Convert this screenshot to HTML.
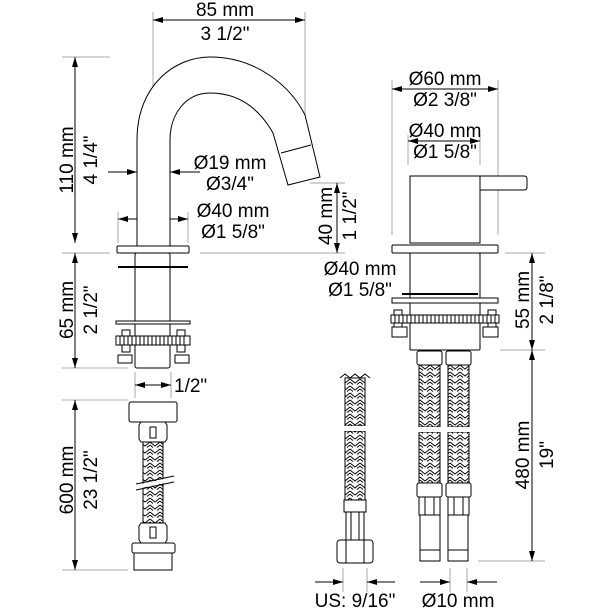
<!DOCTYPE html>
<html><head><meta charset="utf-8"><style>
html,body{margin:0;padding:0;background:#fff}
svg{display:block}
text{font-family:"Liberation Sans",sans-serif;font-size:19px;fill:#000}
</style></head><body>
<svg width="610" height="610" viewBox="0 0 610 610" xmlns="http://www.w3.org/2000/svg">
<defs>
<pattern id="braid" width="10" height="7" patternUnits="userSpaceOnUse">
<rect width="10" height="7" fill="#fff"/>
<path d="M0,1 L5,5 L10,1 M0,4 L3,6.5 M10,4 L7,6.5 M0,-2 L2,0 M10,-2 L8,0" stroke="#000" stroke-width="0.9" fill="none"/>
</pattern>
<marker id="a" markerWidth="10" markerHeight="6" refX="10" refY="3" orient="auto" markerUnits="userSpaceOnUse">
<path d="M0,0 L10,3 L0,6 z" fill="#000"/></marker>
</defs>

<g stroke="#aaa" stroke-width="1" fill="none">
<line x1="62" y1="57" x2="110" y2="57"/>
<line x1="62" y1="253" x2="110" y2="253"/>
<line x1="200" y1="253" x2="345" y2="253"/>
<line x1="62" y1="368" x2="128" y2="368"/>
<line x1="62" y1="400" x2="128" y2="400"/>
<line x1="62" y1="570" x2="128" y2="570"/>
<line x1="153" y1="12" x2="153" y2="160"/>
<line x1="305" y1="12" x2="305" y2="170"/>
<line x1="118" y1="212" x2="118" y2="243"/>
<line x1="188" y1="212" x2="188" y2="243"/>
<line x1="310" y1="183" x2="345" y2="183"/>
<line x1="392" y1="80" x2="392" y2="235"/>
<line x1="498" y1="80" x2="498" y2="235"/>
<line x1="408" y1="135" x2="408" y2="165"/>
<line x1="480" y1="135" x2="480" y2="165"/>
<line x1="505" y1="253" x2="545" y2="253"/>
<line x1="500" y1="350" x2="545" y2="350"/>
<line x1="478" y1="561" x2="545" y2="561"/>
<line x1="135" y1="372" x2="135" y2="398"/>
<line x1="171" y1="372" x2="171" y2="398"/>
<line x1="343" y1="568" x2="343" y2="592"/>
<line x1="367" y1="568" x2="367" y2="592"/>
<line x1="450" y1="568" x2="450" y2="592"/>
<line x1="467" y1="568" x2="467" y2="592"/>
</g>

<g stroke="#000" stroke-width="1" fill="none">
<line x1="225" y1="20" x2="153" y2="20" marker-end="url(#a)"/>
<line x1="225" y1="20" x2="305" y2="20" marker-end="url(#a)"/>
<line x1="75" y1="150" x2="75" y2="57" marker-end="url(#a)"/>
<line x1="75" y1="150" x2="75" y2="243" marker-end="url(#a)"/>
<line x1="75" y1="310" x2="75" y2="253" marker-end="url(#a)"/>
<line x1="75" y1="310" x2="75" y2="368" marker-end="url(#a)"/>
<line x1="75" y1="485" x2="75" y2="400" marker-end="url(#a)"/>
<line x1="75" y1="485" x2="75" y2="570" marker-end="url(#a)"/>
<line x1="108" y1="172" x2="137" y2="172" marker-end="url(#a)"/>
<line x1="200" y1="172" x2="170" y2="172" marker-end="url(#a)"/>
<line x1="153" y1="219" x2="118" y2="219" marker-end="url(#a)"/>
<line x1="153" y1="219" x2="188" y2="219" marker-end="url(#a)"/>
<line x1="337" y1="216" x2="337" y2="183" marker-end="url(#a)"/>
<line x1="337" y1="216" x2="337" y2="253" marker-end="url(#a)"/>
<line x1="445" y1="89" x2="392" y2="89" marker-end="url(#a)"/>
<line x1="445" y1="89" x2="498" y2="89" marker-end="url(#a)"/>
<line x1="444" y1="141" x2="408" y2="141" marker-end="url(#a)"/>
<line x1="444" y1="141" x2="480" y2="141" marker-end="url(#a)"/>
<line x1="445" y1="278" x2="410" y2="278" marker-end="url(#a)"/>
<line x1="445" y1="278" x2="480" y2="278" marker-end="url(#a)"/>
<line x1="532" y1="300" x2="532" y2="253" marker-end="url(#a)"/>
<line x1="532" y1="300" x2="532" y2="350" marker-end="url(#a)"/>
<line x1="532" y1="455" x2="532" y2="350" marker-end="url(#a)"/>
<line x1="532" y1="455" x2="532" y2="561" marker-end="url(#a)"/>
<line x1="153" y1="385" x2="135" y2="385" marker-end="url(#a)"/>
<line x1="153" y1="385" x2="171" y2="385" marker-end="url(#a)"/>
<line x1="315" y1="582" x2="343" y2="582" marker-end="url(#a)"/>
<line x1="395" y1="582" x2="367" y2="582" marker-end="url(#a)"/>
<line x1="420" y1="582" x2="450" y2="582" marker-end="url(#a)"/>
<line x1="497" y1="582" x2="467" y2="582" marker-end="url(#a)"/>
</g>

<g stroke="#000" stroke-width="1" fill="#fff">
<path d="M137,246 V140 C137,85 175,57 210,57 C255,57 290,85 305,115 L320,177 L288,185 L273,133 C260,110 240,93 210,93 C185,93 170,115 170,140 V246"/>
<line x1="281" y1="153" x2="311" y2="145"/>
<rect x="117" y="246" width="72" height="7" rx="1"/>
<rect x="135" y="253" width="35" height="115" rx="2"/>
<line x1="118" y1="267" x2="188" y2="267" stroke-width="2"/>
<rect x="116" y="321" width="74" height="3"/>
<rect x="122" y="330" width="8" height="22"/>
<rect x="177" y="330" width="8" height="22"/>
<rect x="118" y="355" width="14" height="8"/>
<rect x="175" y="355" width="14" height="8"/>
<rect x="116" y="336" width="74" height="9"/>
<path d="M120,336v9M124,336v9M128,336v9M132,336v9M136,336v9M140,336v9M144,336v9M148,336v9M152,336v9M156,336v9M160,336v9M164,336v9M168,336v9M172,336v9M176,336v9M180,336v9M184,336v9" fill="none"/>
</g>

<g stroke="#000" stroke-width="1" fill="#fff">
<path d="M480,176 H524 Q527,176 527,179 V187 Q527,190 524,190 H480 Z"/>
<rect x="410" y="176" width="70" height="67"/>
<rect x="392" y="245" width="106" height="8" rx="1"/>
<rect x="410" y="253" width="70" height="97" rx="1"/>
<line x1="402" y1="294" x2="478" y2="294" stroke-width="2"/>
<rect x="392" y="298" width="106" height="5"/>
<rect x="394" y="310" width="8" height="20"/>
<rect x="488" y="310" width="8" height="20"/>
<rect x="392" y="327" width="15" height="10"/>
<rect x="483" y="327" width="15" height="10"/>
<rect x="391" y="315" width="108" height="8"/>
<path d="M395,315v8M399,315v8M403,315v8M407,315v8M411,315v8M415,315v8M419,315v8M423,315v8M427,315v8M431,315v8M435,315v8M439,315v8M443,315v8M447,315v8M451,315v8M455,315v8M459,315v8M463,315v8M467,315v8M471,315v8M475,315v8M479,315v8M483,315v8M487,315v8M491,315v8M495,315v8" fill="none"/>
</g>

<g stroke="#000" stroke-width="1">
<rect x="417" y="351" width="25" height="14" rx="2" fill="#fff"/>
<rect x="446" y="351" width="25" height="14" rx="2" fill="#fff"/>
<rect x="419" y="365" width="21" height="62" fill="url(#braid)"/>
<rect x="448" y="365" width="21" height="62" fill="url(#braid)"/>
<rect x="419" y="432" width="21" height="51" fill="url(#braid)"/>
<rect x="448" y="432" width="21" height="51" fill="url(#braid)"/>
<rect x="417" y="483" width="25" height="14" rx="2" fill="#fff"/>
<rect x="446" y="483" width="25" height="14" rx="2" fill="#fff"/>
<rect x="419" y="497" width="21" height="18" fill="#fff"/>
<rect x="448" y="497" width="21" height="18" fill="#fff"/>
<path d="M425,497v18M434,497v18M454,497v18M463,497v18" fill="none"/>
<rect x="420" y="515" width="20" height="46" fill="#fff"/>
<rect x="448" y="515" width="20" height="46" fill="#fff"/>
<path d="M420,550h20M448,550h20" fill="none"/>
</g>
<rect x="410" y="427" width="70" height="5" fill="#fff"/>

<g stroke="#000" stroke-width="1">
<rect x="345" y="378" width="20" height="48" fill="url(#braid)"/>
<rect x="345" y="431" width="20" height="69" fill="url(#braid)"/>
<path d="M340,378 L345,374 L350,378 L355,374 L360,378 L365,374 L370,378" fill="none"/>
<rect x="344" y="500" width="22" height="12" fill="#fff"/>
<rect x="346" y="512" width="18" height="28" fill="#fff"/>
<path d="M351,512v28M359,512v28" fill="none"/>
<rect x="337" y="540" width="36" height="23" rx="3" fill="#fff"/>
<path d="M346,540v23M364,540v23" fill="none"/>
</g>
<rect x="340" y="426" width="30" height="5" fill="#fff"/>

<g stroke="#000" stroke-width="1">
<rect x="129" y="402" width="48" height="20" rx="2" fill="#fff"/>
<path d="M141,422 h24 l2,3 v14 l-2,3 h-24 l-2,-3 v-14 z" fill="#fff"/>
<rect x="150" y="427" width="6" height="11" fill="#fff"/>
<rect x="143" y="442" width="20" height="81" fill="url(#braid)"/>
<path d="M141,523 h24 l2,3 v14 l-2,3 h-24 l-2,-3 v-14 z" fill="#fff"/>
<rect x="150" y="527" width="6" height="11" fill="#fff"/>
<rect x="132" y="543" width="43" height="10" rx="2" fill="#fff"/>
<rect x="134" y="553" width="38" height="17" fill="#fff"/>
<line x1="136" y1="484" x2="174" y2="476"/>
<line x1="136" y1="490" x2="174" y2="482"/>
</g>
<polygon points="137,485 173,477 173,481 137,489" fill="#fff"/>

<text x="225" y="16" text-anchor="middle">85 mm</text>
<text x="225" y="40" text-anchor="middle">3 1/2"</text>
<text x="230" y="169" text-anchor="middle">Ø19 mm</text>
<text x="230" y="190" text-anchor="middle">Ø3/4"</text>
<text x="233" y="217" text-anchor="middle">Ø40 mm</text>
<text x="233" y="238" text-anchor="middle">Ø1 5/8"</text>
<text x="445" y="85" text-anchor="middle">Ø60 mm</text>
<text x="445" y="106" text-anchor="middle">Ø2 3/8"</text>
<text x="445" y="137" text-anchor="middle">Ø40 mm</text>
<text x="445" y="158" text-anchor="middle">Ø1 5/8"</text>
<text x="360" y="275" text-anchor="middle">Ø40 mm</text>
<text x="360" y="296" text-anchor="middle">Ø1 5/8"</text>
<text x="174" y="392">1/2"</text>
<text x="355" y="607" text-anchor="middle">US: 9/16"</text>
<text x="458" y="607" text-anchor="middle">Ø10 mm</text>
<text transform="translate(73,160) rotate(-90)" text-anchor="middle">110 mm</text>
<text transform="translate(97,160) rotate(-90)" text-anchor="middle">4 1/4"</text>
<text transform="translate(73,310) rotate(-90)" text-anchor="middle">65 mm</text>
<text transform="translate(97,310) rotate(-90)" text-anchor="middle">2 1/2"</text>
<text transform="translate(73,480) rotate(-90)" text-anchor="middle">600 mm</text>
<text transform="translate(97,480) rotate(-90)" text-anchor="middle">23 1/2"</text>
<text transform="translate(332,216) rotate(-90)" text-anchor="middle">40 mm</text>
<text transform="translate(356,216) rotate(-90)" text-anchor="middle">1 1/2"</text>
<text transform="translate(529,300) rotate(-90)" text-anchor="middle">55 mm</text>
<text transform="translate(553,300) rotate(-90)" text-anchor="middle">2 1/8"</text>
<text transform="translate(529,455) rotate(-90)" text-anchor="middle">480 mm</text>
<text transform="translate(553,455) rotate(-90)" text-anchor="middle">19"</text>
</svg>
</body></html>
